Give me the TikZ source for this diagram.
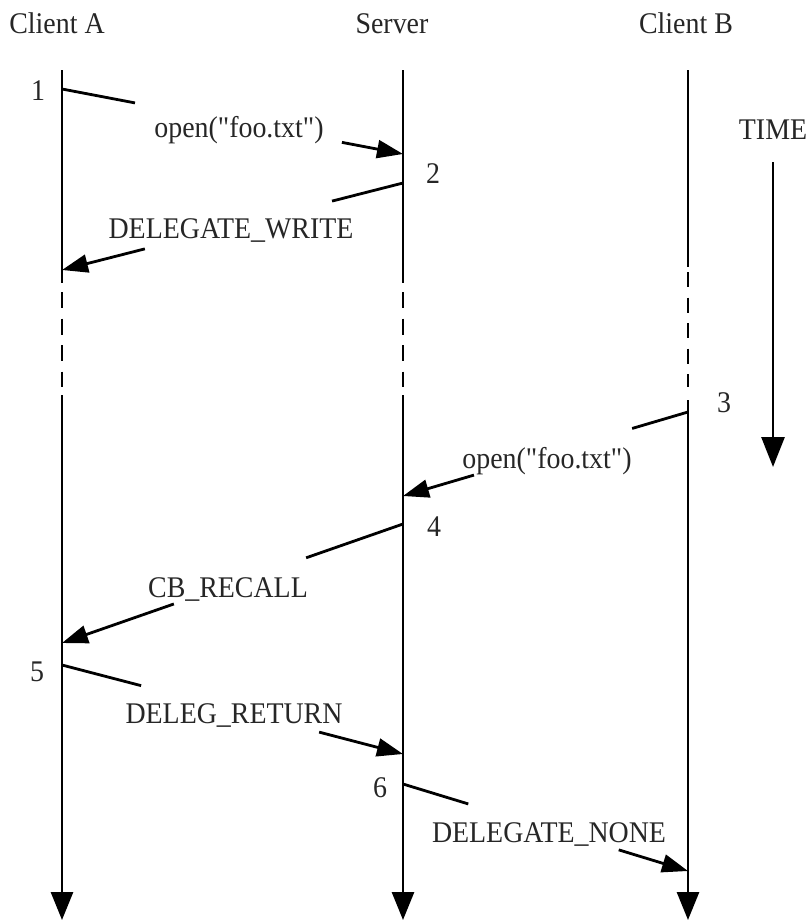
\documentclass[tikz,border=0pt]{standalone}
\usepackage{fontspec}
\setmainfont{Liberation Serif}[FakeStretch=0.93, Ligatures=TeXOff]
\usetikzlibrary{arrows.meta,calc}
\begin{document}
\begin{tikzpicture}[x=1pt,y=-1pt,
  lbl/.style={font=\fontsize{30}{36}\selectfont, inner sep=0pt, anchor=base, text=black!85},
  life/.style={line width=2.8pt, black},
  lifedash/.style={line width=2.8pt, black, dash pattern=on 16pt off 10.5pt},
  bigtip/.style={-{Triangle[length=28pt,width=22pt]}},
  timetip/.style={-{Triangle[length=30pt,width=23pt]}},
  msg/.style={line width=2.8pt, black},
  msgtip/.style={line width=2.8pt, black, -{Triangle[length=26pt,width=18pt]}},
]
\useasboundingbox (0,0) rectangle (810,921);

% headers
\node[lbl] (hA) at (57,33) {Client A};
\node[lbl] (hS) at (392,33) {Server};
\node[lbl] (hB) at (686,33) {Client B};
\node[lbl] (hT) at (773,139) {TIME};

% lifelines
\foreach \n/\x in {A/62,S/403}{
  \coordinate (\n0) at (\x,70);
  \coordinate (\n1) at (\x,283);
  \coordinate (\n2) at (\x,292);
  \coordinate (\n3) at (\x,387);
  \coordinate (\n4) at (\x,395);
  \coordinate (\n5) at (\x,920);
}
\coordinate (B0) at (688,70);
\coordinate (B1) at (688,267);
\coordinate (B2) at (688,272);
\coordinate (B3) at (688,387);
\coordinate (B4) at (688,400);
\coordinate (B5) at (688,920);
\foreach \n in {A,S}{
  \draw[life] (\n0) -- (\n1);
  \draw[lifedash] (\n2) -- (\n3);
  \draw[life,bigtip] (\n4) -- (\n5);
}
\draw[life] (B0) -- (B1);
\draw[life, dash pattern=on 15pt off 10.5pt] (B2) -- (B3);
\draw[life,bigtip] (B4) -- (B5);

% time arrow
\coordinate (t0) at (773,162);
\coordinate (t1) at (773,467);
\draw[life,timetip] (t0) -- (t1);

% step numbers
\node[lbl] (n1) at (38,100) {1};
\node[lbl] (n2) at (433,183) {2};
\node[lbl] (n3) at (724,412) {3};
\node[lbl] (n4) at (434,536) {4};
\node[lbl] (n5) at (37,681) {5};
\node[lbl] (n6) at (380,797) {6};

% message end points
\coordinate (m1s) at (62,89);   \coordinate (m1e) at (403,154);
\coordinate (m2s) at (403,183); \coordinate (m2e) at (62,270);
\coordinate (m3s) at (688,412); \coordinate (m3e) at (403,496);
\coordinate (m4s) at (403,524); \coordinate (m4e) at (62,643);
\coordinate (m5s) at (62,665);  \coordinate (m5e) at (403,754);
\coordinate (m6s) at (403,784); \coordinate (m6e) at (688,871);

% messages (line broken by label)
\draw[msg] (m1s) -- ($(m1s)!0.214!(m1e)$);
\draw[msgtip] ($(m1s)!0.821!(m1e)$) -- (m1e);
\node[lbl] (l1) at (239,137) {open("foo.txt")};

\draw[msg] (m2s) -- ($(m2s)!0.208!(m2e)$);
\draw[msgtip] ($(m2s)!0.757!(m2e)$) -- (m2e);
\node[lbl] (l2) at (231,238) {DELEGATE\_WRITE};

\draw[msg] (m3s) -- ($(m3s)!0.196!(m3e)$);
\draw[msgtip] ($(m3s)!0.751!(m3e)$) -- (m3e);
\node[lbl] (l3) at (547,468) {open("foo.txt")};

\draw[msg] (m4s) -- ($(m4s)!0.284!(m4e)$);
\draw[msgtip] ($(m4s)!0.672!(m4e)$) -- (m4e);
\node[lbl] (l4) at (228,597) {CB\_RECALL};

\draw[msg] (m5s) -- ($(m5s)!0.232!(m5e)$);
\draw[msgtip] ($(m5s)!0.754!(m5e)$) -- (m5e);
\node[lbl] (l5) at (234,723) {DELEG\_RETURN};

\draw[msg] (m6s) -- ($(m6s)!0.229!(m6e)$);
\draw[msgtip] ($(m6s)!0.757!(m6e)$) -- (m6e);
\node[lbl] (l6) at (549,842) {DELEGATE\_NONE};
\end{tikzpicture}
\end{document}
